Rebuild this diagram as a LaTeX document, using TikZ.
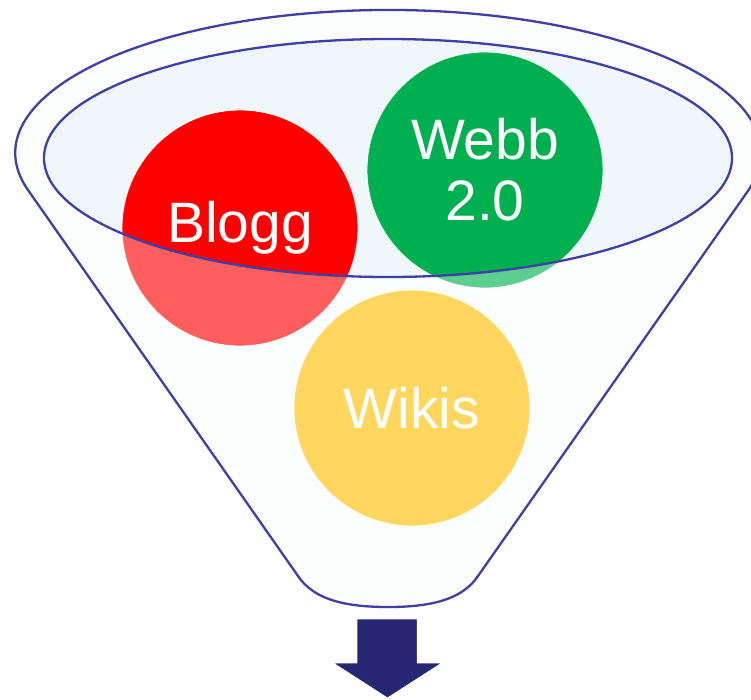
\documentclass[tikz,border=0pt]{standalone}
\usepackage{fontspec}
\setmainfont{Liberation Sans}
\definecolor{rimblue}{HTML}{3F3FA6}
\definecolor{innerfill}{HTML}{EFF7FA}
\definecolor{bodyfill}{HTML}{FBFCFD}
\definecolor{navy}{HTML}{262673}
\definecolor{cred}{HTML}{FF0000}
\definecolor{cgreen}{HTML}{00B050}
\definecolor{cyellow}{HTML}{FFC000}
\tikzset{
  ball/.style={circle, minimum size=236pt, inner sep=0pt, text=white, align=center,
    font=\fontsize{57}{61}\selectfont, draw=white, line width=0.8pt},
  rim/.style={draw=rimblue, line width=2.3pt},
}
\begin{document}
\begin{tikzpicture}[x=1pt,y=-1pt]
\useasboundingbox (0,0) rectangle (751,699);
% funnel outline path
\def\funnelpath{(28,190) arc[start angle=165, end angle=375, x radius=373, y radius=143]
  -- (478,576) .. controls (462,600) and (430,607) .. (388,607)
  .. controls (346,607) and (314,600) .. (298,576) -- cycle}
\fill[bodyfill] \funnelpath;
\fill[innerfill] (388,158) ellipse[x radius=344, y radius=119];
% circles
\node[ball, fill=cred] (blogg) at (240,228) {Blogg};
\node[ball, fill=cgreen] (webb) at (485,170) {Webb\\2.0};
\node[ball, fill=cyellow] (wikis) at (412,408) {Wikis};
% translucent front of funnel (white text stays white under it)
\fill[white, fill opacity=0.37, even odd rule] \funnelpath (388,158) ellipse[x radius=344, y radius=119];
% outlines
\draw[rim] (388,158) ellipse[x radius=344, y radius=119];
\draw[rim] \funnelpath;
% arrow
\coordinate (atip) at (387.5,699);
\draw[fill=navy, draw=white, line width=2.5pt, line join=miter]
  (356,618) -- (418,618) -- (418,662) -- (445,662) -- (atip) -- (330,662) -- (356,662) -- cycle;
\end{tikzpicture}
\end{document}
